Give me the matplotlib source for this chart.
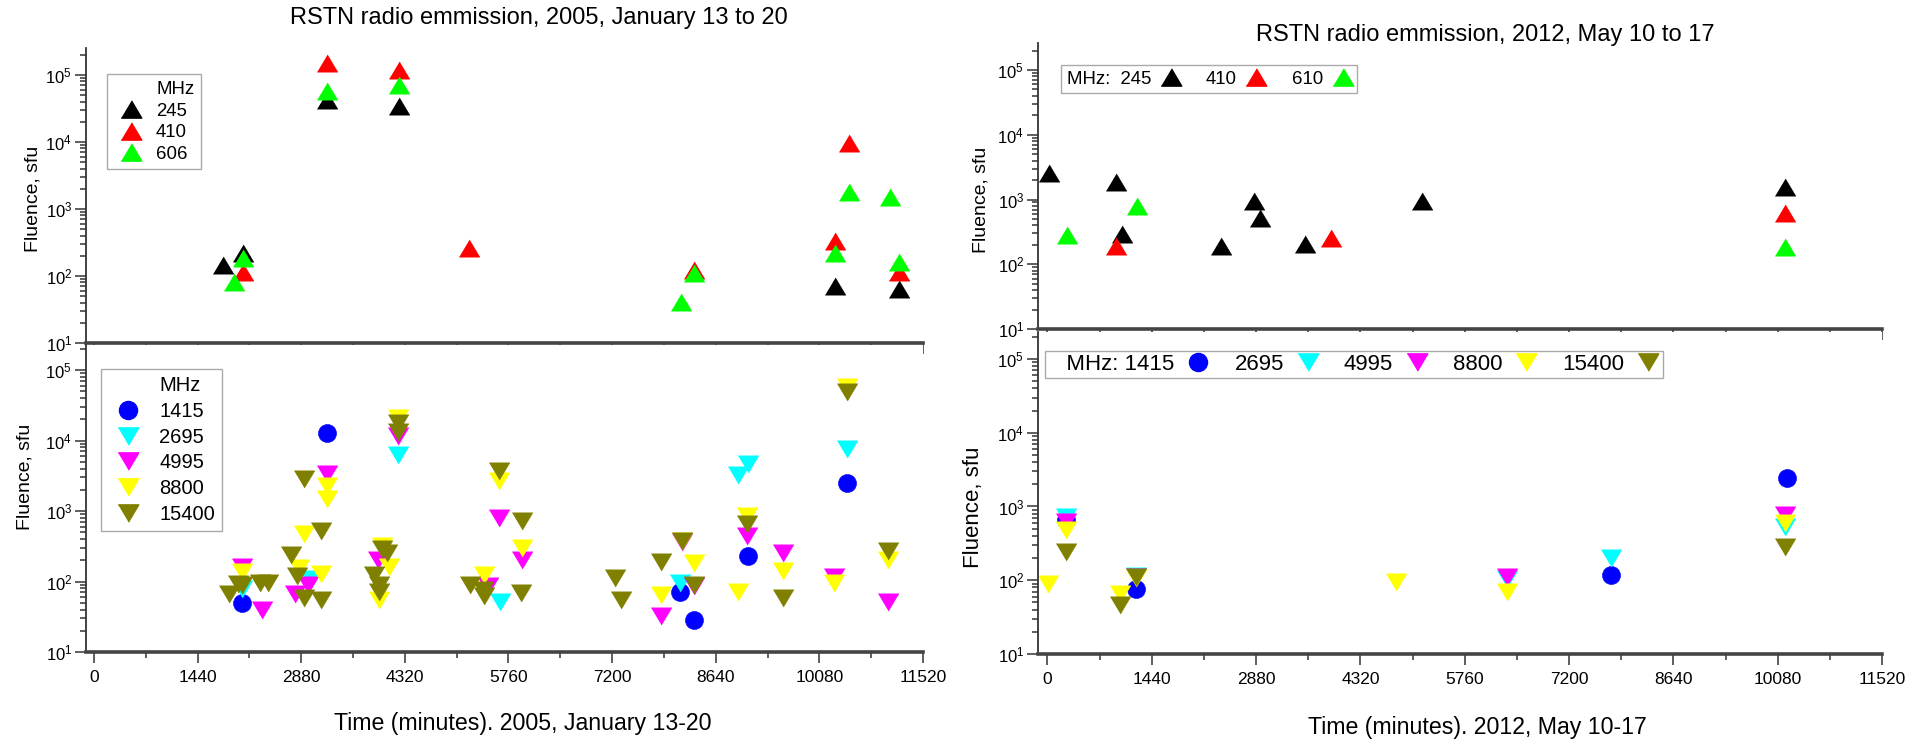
import matplotlib
matplotlib.use('Agg')
import matplotlib.pyplot as plt
from matplotlib.lines import Line2D
from matplotlib.ticker import LogLocator, MultipleLocator, NullFormatter

plt.rcParams['font.family'] = ['Liberation Sans', 'DejaVu Sans']

W, H = 1905, 739

# time in minutes from start of interval, fluence in sfu

# ---- 2005, January 13-20, low frequencies
t05_245 = [1790, 2072, 3235, 4235, 10298, 11187]
f05_245 = [146, 218, 4.2e4, 3.4e4, 71, 63]
t05_410 = [2072, 3235, 4235, 5210, 8340, 10298, 10494, 11187]
f05_410 = [115, 1.49e5, 1.19e5, 265, 123, 336, 9700, 115]
t05_606 = [1952, 2072, 3235, 4235, 8152, 8340, 10298, 10494, 11059, 11187]
f05_606 = [82, 184, 5.8e4, 7.1e4, 41, 112, 218, 1780, 1490, 163]

# ---- 2005, January 13-20, high frequencies
t05_1415 = [2060, 3243, 8143, 8343, 9095, 10466]
f05_1415 = [50, 12900, 72, 28, 228, 2500]
t05_2695 = [2060, 3000, 4230, 5644, 8143, 8946, 9095, 10466]
f05_2695 = [78, 110, 6200, 52, 95, 3200, 4700, 7600]
t05_4995 = [2060, 2330, 2800, 2980, 3242, 3940, 4230, 5470, 5634, 5946,
            7878, 8166, 8343, 9081, 9569, 10280, 11037]
f05_4995 = [160, 40, 67, 90, 3300, 205, 11500, 85, 800, 205,
            32, 360, 85, 440, 250, 115, 52]
t05_8800 = [2060, 2845, 2917, 3150, 3243, 3243, 3962, 4009, 4100, 4230,
            5425, 5634, 5946, 7878, 8166, 8343, 8946, 9081, 9569, 10280,
            10466, 11037]
f05_8800 = [135, 155, 465, 126, 2300, 1500, 55, 316, 163, 21000,
            125, 2700, 300, 65, 380, 183, 70, 850, 139, 95,
            58000, 205]
t05_15400 = [1870, 2000, 2060, 2310, 2415, 2731, 2825, 2917, 2917, 3150,
             3150, 3890, 3960, 3960, 4009, 4078, 4230, 4230, 5230, 5402,
             5420, 5634, 5937, 5946, 7237, 7321, 7878, 8166, 8343, 9081,
             9569, 10466, 11037]
f05_15400 = [66, 93, 88, 95, 95, 240, 118, 2800, 58, 520,
             55, 125, 90, 72, 290, 254, 18000, 13000, 88, 75,
             62, 3700, 68, 720, 112, 54, 187, 370, 90, 645,
             58, 49000, 268]

# ---- 2012, May 10-17, low frequencies
t12_245 = [14, 940, 1025, 2397, 2852, 2936, 3552, 5171, 10185]
f12_245 = [2600, 1850, 290, 190, 940, 520, 208, 965, 1550]
t12_410 = [940, 3916, 10185]
f12_410 = [190, 256, 610]
t12_610 = [267, 1236, 10185]
f12_610 = [280, 790, 187]

# ---- 2012, May 10-17, high frequencies
t12_1415 = [256, 1218, 7783, 10214]
f12_1415 = [650, 75, 117, 2460]
t12_2695 = [256, 1218, 6347, 7783, 10185]
f12_2695 = [730, 115, 105, 198, 525]
t12_4995 = [256, 1218, 6347, 10185]
f12_4995 = [620, 110, 111, 765]
t12_8800 = [11, 256, 1001, 1218, 4813, 6347, 10185]
f12_8800 = [90, 480, 66, 108, 95, 69, 600]
t12_15400 = [256, 1001, 1218, 10185]
f12_15400 = [243, 46, 112, 285]

xticks = list(range(0, 11521, 1440))

TRI_UP = [(-0.5, -0.42), (0.5, -0.42), (0.0, 0.42)]
TRI_DN = [(-0.5, 0.42), (0.5, 0.42), (0.0, -0.42)]
MS_TRI = 14.8
MS_DOT = 13

C_245, C_410, C_610 = 'black', '#ff0000', '#00ff00'
C_1415, C_2695, C_4995, C_8800, C_15400 = ('#0000ff', '#00ffff', '#ff00ff',
                                           '#ffff00', '#808000')

fig = plt.figure(figsize=(W / 100, H / 100), dpi=100)


def px_axes(left, top, right, bottom):
    return fig.add_axes([left / W, 1 - bottom / H,
                         (right - left) / W, (bottom - top) / H])


def style(ax, x0, ytop, labels):
    ax.set_yscale('log')
    ax.set_xlim(x0, 11520)
    ax.set_ylim(10, ytop)
    ax.set_xticks(xticks)
    ax.xaxis.set_minor_locator(MultipleLocator(720))
    ax.yaxis.set_major_locator(LogLocator(base=10))
    ax.yaxis.set_minor_locator(LogLocator(base=10, subs=range(2, 10)))
    ax.yaxis.set_minor_formatter(NullFormatter())
    for s in ('top', 'right'):
        ax.spines[s].set_visible(False)
    ax.spines['bottom'].set_linewidth(2.6)
    ax.spines['bottom'].set_color('#444444')
    ax.spines['left'].set_linewidth(1.3)
    ax.spines['left'].set_color('#333333')
    ax.tick_params(which='both', direction='out', color='#333333', width=1.1)
    ax.tick_params(which='major', length=8)
    ax.tick_params(which='minor', length=4)
    ax.tick_params(axis='x', labelsize=12.5, pad=5, labelbottom=labels)
    ax.tick_params(axis='y', labelsize=12, pad=2)


def pts(ax, t, f, marker, ms, c):
    ax.plot(t, f, ls='none', marker=marker, ms=ms, mfc=c, mec=c, mew=0.4)


def handle(marker, ms, c):
    return Line2D([], [], ls='none', marker=marker, ms=ms, mfc=c, mec=c)


blank = Line2D([], [], ls='none')

# ---------------- left column: 2005 ----------------
ax_lt = px_axes(86, 48, 923, 343)
style(ax_lt, -111, 10 ** 5.403, False)
pts(ax_lt, t05_245, f05_245, TRI_UP, MS_TRI, C_245)
pts(ax_lt, t05_410, f05_410, TRI_UP, MS_TRI, C_410)
pts(ax_lt, t05_606, f05_606, TRI_UP, MS_TRI, C_610)
ax_lt.set_ylabel('Fluence, sfu', fontsize=14, va='center')
ax_lt.yaxis.set_label_coords(-0.0633, 0.488)
ax_lt.legend([blank, handle(TRI_UP, MS_TRI, C_245), handle(TRI_UP, MS_TRI, C_410),
              handle(TRI_UP, MS_TRI, C_610)], ['MHz', '245', '410', '606'],
             loc='upper left', bbox_to_anchor=(106.7 / W, 1 - 74.3 / H),
             bbox_transform=fig.transFigure, borderaxespad=0, fontsize=13.4,
             handlelength=1.9, handletextpad=0.4, borderpad=0.35,
             labelspacing=0.25, fancybox=False, edgecolor='#aaaaaa',
             framealpha=1)

ax_lb = px_axes(86, 345, 923, 652)
style(ax_lb, -111, 10 ** 5.355, True)
pts(ax_lb, t05_1415, f05_1415, 'o', MS_DOT, C_1415)
pts(ax_lb, t05_2695, f05_2695, TRI_DN, MS_TRI, C_2695)
pts(ax_lb, t05_4995, f05_4995, TRI_DN, MS_TRI, C_4995)
pts(ax_lb, t05_8800, f05_8800, TRI_DN, MS_TRI, C_8800)
pts(ax_lb, t05_15400, f05_15400, TRI_DN, MS_TRI, C_15400)
ax_lb.set_ylabel('Fluence, sfu', fontsize=14, va='center')
ax_lb.yaxis.set_label_coords(-0.0729, 0.57)
ax_lb.set_xlabel('Time (minutes). 2005, January 13-20', fontsize=16.7,
                 va='center')
ax_lb.xaxis.set_label_coords(0.522, -0.2345)
ax_lb.legend([blank, handle('o', MS_DOT, C_1415), handle(TRI_DN, MS_TRI, C_2695),
              handle(TRI_DN, MS_TRI, C_4995), handle(TRI_DN, MS_TRI, C_8800),
              handle(TRI_DN, MS_TRI, C_15400)],
             ['MHz', '1415', '2695', '4995', '8800', '15400'],
             loc='upper left', bbox_to_anchor=(100.7 / W, 1 - 369.3 / H),
             bbox_transform=fig.transFigure, borderaxespad=0, fontsize=14.5,
             handlelength=2.05, handletextpad=0.5, borderpad=0.35,
             labelspacing=0.33, fancybox=False, edgecolor='#aaaaaa',
             framealpha=1)

fig.text(539 / W, 1 - 18 / H, 'RSTN radio emmission, 2005, January 13 to 20',
         ha='center', va='center', fontsize=17)

# ---------------- right column: 2012 ----------------
ax_rt = px_axes(1038, 43, 1882, 329)
style(ax_rt, -131, 10 ** 5.417, False)
pts(ax_rt, t12_245, f12_245, TRI_UP, MS_TRI, C_245)
pts(ax_rt, t12_410, f12_410, TRI_UP, MS_TRI, C_410)
pts(ax_rt, t12_610, f12_610, TRI_UP, MS_TRI, C_610)
ax_rt.set_ylabel('Fluence, sfu', fontsize=14, va='center')
ax_rt.yaxis.set_label_coords(-0.0675, 0.451)
ax_rt.legend([handle(TRI_UP, MS_TRI, C_245), handle(TRI_UP, MS_TRI, C_410),
              handle(TRI_UP, MS_TRI, C_610)], ['MHz:  245', '410', '610'],
             ncol=3, markerfirst=False,
             loc='upper left', bbox_to_anchor=(1061 / W, 1 - 65 / H),
             bbox_transform=fig.transFigure, borderaxespad=0, fontsize=13.4,
             handlelength=1.0, handletextpad=0.55, columnspacing=1.4,
             borderpad=0.3, fancybox=False, edgecolor='#aaaaaa',
             framealpha=1)

ax_rb = px_axes(1038, 332, 1882, 654)
style(ax_rb, -131, 10 ** 5.366, True)
pts(ax_rb, t12_1415, f12_1415, 'o', MS_DOT, C_1415)
pts(ax_rb, t12_2695, f12_2695, TRI_DN, MS_TRI, C_2695)
pts(ax_rb, t12_4995, f12_4995, TRI_DN, MS_TRI, C_4995)
pts(ax_rb, t12_8800, f12_8800, TRI_DN, MS_TRI, C_8800)
pts(ax_rb, t12_15400, f12_15400, TRI_DN, MS_TRI, C_15400)
ax_rb.set_ylabel('Fluence, sfu', fontsize=16, va='center')
ax_rb.yaxis.set_label_coords(-0.077, 0.4565)
ax_rb.set_xlabel('Time (minutes). 2012, May 10-17', fontsize=16.7, va='center')
ax_rb.xaxis.set_label_coords(0.521, -0.2275)
ax_rb.legend([handle('o', MS_DOT, C_1415), handle(TRI_DN, MS_TRI, C_2695),
              handle(TRI_DN, MS_TRI, C_4995), handle(TRI_DN, MS_TRI, C_8800),
              handle(TRI_DN, MS_TRI, C_15400)],
             ['   MHz: 1415', '2695', '4995', '8800', '15400'],
             ncol=5, markerfirst=False,
             loc='upper left', bbox_to_anchor=(1045 / W, 1 - 350.7 / H),
             bbox_transform=fig.transFigure, borderaxespad=0, fontsize=16,
             handlelength=1.0, handletextpad=0.56, columnspacing=1.14,
             borderpad=0.15, fancybox=False, edgecolor='#aaaaaa',
             framealpha=1)

fig.text(1485 / W, 1 - 35 / H, 'RSTN radio emmission, 2012, May 10 to 17',
         ha='center', va='center', fontsize=17)

fig.savefig('out.png', dpi=100)
